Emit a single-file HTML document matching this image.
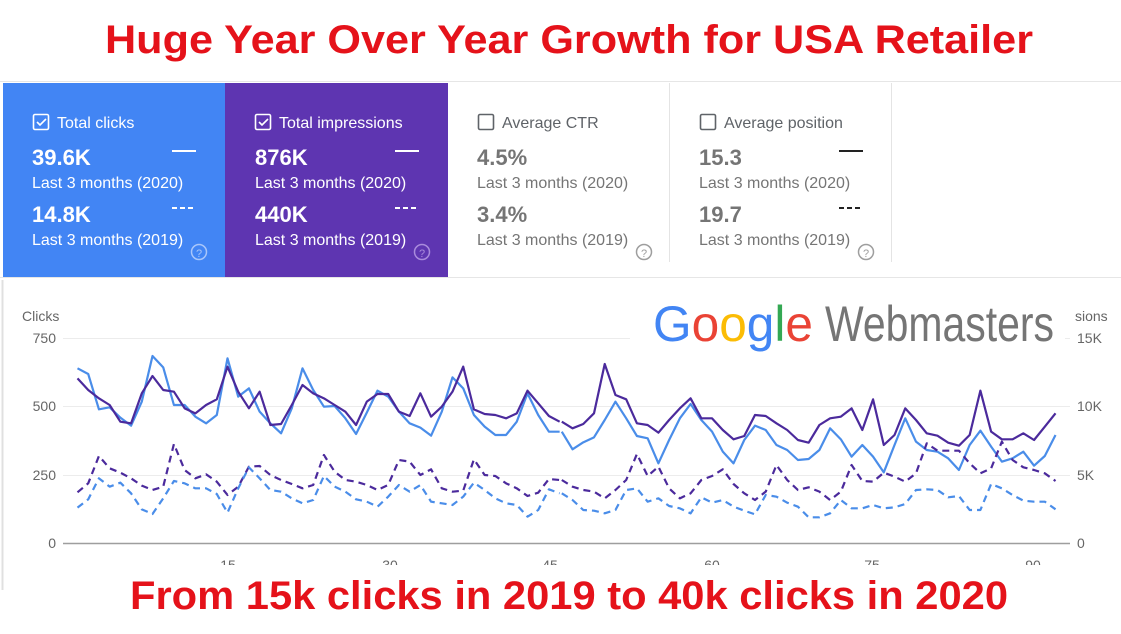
<!DOCTYPE html>
<html><head><meta charset="utf-8"><style>
html,body{margin:0;padding:0;background:#fff;}
svg{display:block;font-family:"Liberation Sans",sans-serif;}
</style></head><body>
<svg width="1121" height="634" viewBox="0 0 1121 634" xmlns="http://www.w3.org/2000/svg">
<rect width="1121" height="634" fill="#fff"/>
<text x="569" y="53" text-anchor="middle" font-size="40" font-weight="bold" fill="#e5121a" textLength="928" lengthAdjust="spacingAndGlyphs">Huge Year Over Year Growth for USA Retailer</text>
<!-- cards band -->
<rect x="0" y="81" width="1121" height="197" fill="#fff"/>
<line x1="0" y1="81.5" x2="1121" y2="81.5" stroke="#e6e6e6"/>
<line x1="0" y1="277.5" x2="1121" y2="277.5" stroke="#e6e6e6"/>
<rect x="3" y="83" width="222" height="194" fill="#4285f4"/>
<rect x="225" y="83" width="223" height="194" fill="#5e35b1"/>
<line x1="669.5" y1="83" x2="669.5" y2="262" stroke="#e4e4e4"/>
<line x1="891.5" y1="83" x2="891.5" y2="262" stroke="#e4e4e4"/>
<g font-size="16">
 <g fill="#fff">
  <rect x="33.5" y="114.5" width="15" height="15" rx="1.5" fill="none" stroke="#fff" stroke-width="1.6"/>
  <path d="M37 122 l3 3 l6 -6" fill="none" stroke="#fff" stroke-width="1.6"/>
  <text x="57" y="128">Total clicks</text>
  <text x="32" y="165" font-size="22" font-weight="bold">39.6K</text>
  <text x="32" y="188">Last 3 months (2020)</text>
  <text x="32" y="222" font-size="22" font-weight="bold">14.8K</text>
  <text x="32" y="245">Last 3 months (2019)</text>
  <line x1="172" y1="151" x2="196" y2="151" stroke="#fff" stroke-width="2"/>
  <line x1="172" y1="208" x2="196" y2="208" stroke="#fff" stroke-width="2" stroke-dasharray="5,3"/>
  <circle cx="199" cy="252" r="7.5" fill="none" stroke="#a9c6fa" stroke-width="1.5"/>
  <text x="199" y="257" font-size="11" text-anchor="middle" fill="#a9c6fa">?</text>
 </g>
 <g fill="#fff">
  <rect x="255.5" y="114.5" width="15" height="15" rx="1.5" fill="none" stroke="#fff" stroke-width="1.6"/>
  <path d="M259 122 l3 3 l6 -6" fill="none" stroke="#fff" stroke-width="1.6"/>
  <text x="279" y="128">Total impressions</text>
  <text x="255" y="165" font-size="22" font-weight="bold">876K</text>
  <text x="255" y="188">Last 3 months (2020)</text>
  <text x="255" y="222" font-size="22" font-weight="bold">440K</text>
  <text x="255" y="245">Last 3 months (2019)</text>
  <line x1="395" y1="151" x2="419" y2="151" stroke="#fff" stroke-width="2"/>
  <line x1="395" y1="208" x2="419" y2="208" stroke="#fff" stroke-width="2" stroke-dasharray="5,3"/>
  <circle cx="422" cy="252" r="7.5" fill="none" stroke="#a98bdc" stroke-width="1.5"/>
  <text x="422" y="257" font-size="11" text-anchor="middle" fill="#a98bdc">?</text>
 </g>
 <g fill="#5f6368">
  <rect x="478.5" y="114.5" width="15" height="15" rx="1.5" fill="none" stroke="#5f6368" stroke-width="1.6"/>
  <text x="502" y="128">Average CTR</text>
  <text x="477" y="165" font-size="22" font-weight="bold" fill="#757575">4.5%</text>
  <text x="477" y="188" fill="#757575">Last 3 months (2020)</text>
  <text x="477" y="222" font-size="22" font-weight="bold" fill="#757575">3.4%</text>
  <text x="477" y="245" fill="#757575">Last 3 months (2019)</text>
  <circle cx="644" cy="252" r="7.5" fill="none" stroke="#9e9e9e" stroke-width="1.5"/>
  <text x="644" y="257" font-size="11" text-anchor="middle" fill="#9e9e9e">?</text>
 </g>
 <g fill="#5f6368">
  <rect x="700.5" y="114.5" width="15" height="15" rx="1.5" fill="none" stroke="#5f6368" stroke-width="1.6"/>
  <text x="724" y="128">Average position</text>
  <text x="699" y="165" font-size="22" font-weight="bold" fill="#757575">15.3</text>
  <text x="699" y="188" fill="#757575">Last 3 months (2020)</text>
  <text x="699" y="222" font-size="22" font-weight="bold" fill="#757575">19.7</text>
  <text x="699" y="245" fill="#757575">Last 3 months (2019)</text>
  <line x1="839" y1="151" x2="863" y2="151" stroke="#222" stroke-width="2"/>
  <line x1="839" y1="208" x2="863" y2="208" stroke="#222" stroke-width="2" stroke-dasharray="5,3"/>
  <circle cx="866" cy="252" r="7.5" fill="none" stroke="#9e9e9e" stroke-width="1.5"/>
  <text x="866" y="257" font-size="11" text-anchor="middle" fill="#9e9e9e">?</text>
 </g>
</g>
<!-- chart -->
<line x1="2.5" y1="280" x2="2.5" y2="590" stroke="#e0e0e0" stroke-width="2"/>
<g font-size="14" fill="#666">
 <text x="22" y="321">Clicks</text>
 <text x="56" y="343" text-anchor="end">750</text>
 <text x="56" y="411" text-anchor="end">500</text>
 <text x="56" y="480" text-anchor="end">250</text>
 <text x="56" y="548" text-anchor="end">0</text>
 <text x="1075" y="321">sions</text>
 <text x="1077" y="343">15K</text>
 <text x="1077" y="411">10K</text>
 <text x="1077" y="480">5K</text>
 <text x="1077" y="548">0</text>
 <text x="228" y="570" text-anchor="middle">15</text>
 <text x="390" y="570" text-anchor="middle">30</text>
 <text x="550" y="570" text-anchor="middle">45</text>
 <text x="712" y="570" text-anchor="middle">60</text>
 <text x="872" y="570" text-anchor="middle">75</text>
 <text x="1033" y="570" text-anchor="middle">90</text>
</g>
<g stroke="#ececec" stroke-width="1">
 <line x1="63" y1="338.5" x2="1070" y2="338.5"/>
 <line x1="63" y1="406.5" x2="1070" y2="406.5"/>
 <line x1="63" y1="475.5" x2="1070" y2="475.5"/>
</g>
<line x1="63" y1="543.5" x2="1070" y2="543.5" stroke="#9e9e9e" stroke-width="1.5"/>
<g fill="none" stroke-width="2.2" stroke-linejoin="round">
<g transform="translate(0,280) scale(0.35714,0.33333)">
 <polyline vector-effect="non-scaling-stroke" stroke="#4a8de9" points="217,265 247,282 277,388 307,382 337,413 367,437 397,365 427,228 457,262 487,375 517,375 547,410 577,430 607,405 637,235 667,350 697,325 727,395 757,430 787,460 817,385 847,265 877,330 907,380 937,378 967,415 997,462 1027,398 1057,332 1087,350 1117,395 1147,430 1177,443 1207,467 1237,395 1267,292 1297,325 1327,405 1357,440 1387,465 1417,465 1447,425 1477,340 1507,405 1537,455 1567,455"/>
 <polyline vector-effect="non-scaling-stroke" stroke="#4b2a9c" points="217,295 247,330 277,355 307,375 337,425 367,430 397,340 427,288 457,330 487,335 517,385 547,400 577,375 607,358 637,260 667,335 697,385 727,335 757,435 787,432 817,375 847,315 877,340 907,355 937,375 967,395 997,435 1027,365 1057,342 1087,342 1117,395 1147,408 1177,340 1207,410 1237,380 1267,335 1297,260 1327,388 1357,402 1387,405 1417,415 1447,400 1477,332 1507,370 1537,408 1567,425"/>
 <polyline vector-effect="non-scaling-stroke" stroke="#4b2a9c" stroke-dasharray="7,5" points="217,637 247,610 277,528 307,565 337,578 367,595 397,617 427,630 457,620 487,492 517,570 547,595 577,583 607,605 637,645 667,620 697,560 727,558 757,585 787,600 817,612 847,625 877,615 907,525 937,575 967,600 997,605 1027,615 1057,630 1087,615 1117,540 1147,545 1177,585 1207,568 1237,625 1267,635 1297,632 1327,538 1357,585 1387,588 1417,610 1447,625 1477,648 1507,638 1537,597 1567,600"/>
 <polyline vector-effect="non-scaling-stroke" stroke="#4a8de9" stroke-dasharray="7,5" points="217,683 247,658 277,595 307,620 337,608 367,640 397,688 427,702 457,655 487,603 517,610 547,625 577,625 607,642 637,698 667,625 697,562 727,595 757,630 787,635 817,655 847,670 877,660 907,588 937,620 967,635 997,658 1027,665 1057,680 1087,650 1117,615 1147,635 1177,615 1207,665 1237,670 1267,675 1297,650 1327,608 1357,630 1387,655 1417,670 1447,675 1477,710 1507,690 1537,628 1567,640"/>
</g>
<g transform="translate(560,280) scale(0.35778,0.33333)">
 <polyline vector-effect="non-scaling-stroke" stroke="#4a8de9" points="5,455 35,508 65,487 95,472 125,420 155,365 185,415 215,468 245,475 275,550 305,480 335,415 365,372 395,420 425,455 455,515 485,550 515,480 545,437 575,450 605,495 635,510 665,540 695,537 725,510 755,445 785,478 815,530 845,495 875,530 905,577 935,495 965,415 995,485 1025,510 1055,515 1085,535 1115,570 1145,495 1175,452 1205,500 1235,545 1265,535 1295,515 1325,557 1355,528 1385,465"/>
 <polyline vector-effect="non-scaling-stroke" stroke="#4b2a9c" points="5,425 35,445 65,432 95,400 125,252 155,345 185,358 215,430 245,435 275,458 305,420 335,385 365,355 395,415 425,415 455,450 485,478 515,468 545,405 575,408 605,430 635,450 665,480 695,488 725,435 755,415 785,410 815,385 845,450 875,358 905,495 935,465 965,385 995,420 1025,460 1055,467 1085,488 1115,497 1145,465 1175,332 1205,455 1235,478 1265,478 1295,460 1325,480 1355,440 1385,400"/>
 <polyline vector-effect="non-scaling-stroke" stroke="#4b2a9c" stroke-dasharray="7,5" points="5,600 35,620 65,630 95,635 125,655 155,630 185,600 215,522 245,588 275,560 305,625 335,655 365,640 395,600 425,588 455,568 485,612 515,640 545,660 575,635 605,555 635,600 665,630 695,622 725,635 755,660 785,635 815,555 845,603 875,605 905,578 935,590 965,605 995,580 1025,490 1055,512 1085,512 1115,512 1145,550 1175,580 1205,565 1235,485 1265,540 1295,562 1325,570 1355,580 1385,603"/>
 <polyline vector-effect="non-scaling-stroke" stroke="#4a8de9" stroke-dasharray="7,5" points="5,640 35,660 65,690 95,692 125,700 155,690 185,630 215,625 245,665 275,655 305,678 335,685 365,700 395,652 425,668 455,660 485,680 515,692 545,703 575,645 605,650 635,668 665,680 695,712 725,712 755,700 785,660 815,685 845,685 875,675 905,685 935,682 965,672 995,630 1025,628 1055,630 1085,652 1115,648 1145,690 1175,690 1205,612 1235,625 1265,645 1295,662 1325,665 1355,665 1385,688"/>
</g>
</g>
<!-- Google Webmasters overlay -->
<rect x="630" y="280" width="435" height="72" fill="#fff"/>
<g font-size="50" font-family="'Liberation Sans',sans-serif">
 <text x="653" y="341" textLength="160" lengthAdjust="spacingAndGlyphs"><tspan fill="#4285f4">G</tspan><tspan fill="#ea4335">o</tspan><tspan fill="#fbbc05">o</tspan><tspan fill="#4285f4">g</tspan><tspan fill="#34a853">l</tspan><tspan fill="#ea4335">e</tspan></text>
 <text x="825" y="341" fill="#757575" textLength="229" lengthAdjust="spacingAndGlyphs">Webmasters</text>
</g>
<!-- bottom caption -->
<rect x="108" y="565" width="940" height="69" fill="#fff"/>
<text x="569" y="609" text-anchor="middle" font-size="40" font-weight="bold" fill="#e5121a" textLength="878" lengthAdjust="spacingAndGlyphs">From 15k clicks in 2019 to 40k clicks in 2020</text>
</svg>
</body></html>
